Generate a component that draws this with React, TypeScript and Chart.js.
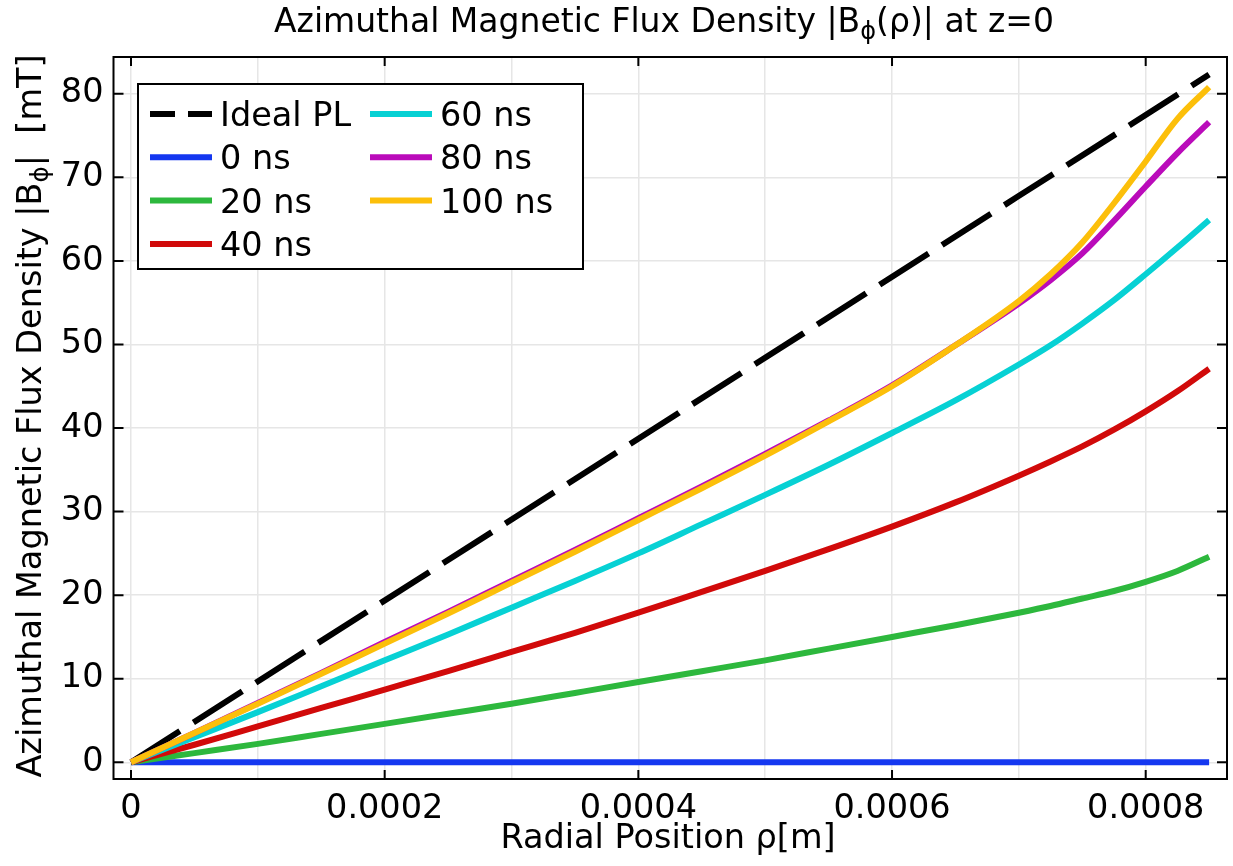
import { useEffect, useRef } from "react"
import { Chart, registerables } from "chart.js"

Chart.register(...registerables)

const FONT = '"DejaVu Sans", sans-serif'

// radial positions (m)
const rho = [
  0, 0.00005, 0.0001, 0.00015, 0.0002, 0.00025, 0.0003, 0.00035, 0.0004, 0.00045, 0.0005, 0.00055, 0.0006,
  0.00065, 0.0007, 0.000725, 0.00075, 0.000775, 0.0008, 0.000825, 0.00085,
]
const idealRho = [0, 0.00085]
const idealB = [0, 82.3]

// |B_phi| in mT per time step
const b0ns = [0, 0, 0, 0, 0, 0, 0, 0, 0, 0, 0, 0, 0, 0, 0, 0, 0, 0, 0, 0, 0]
const b20ns = [0, 1.1, 2.2, 3.4, 4.6, 5.8, 7.0, 8.3, 9.6, 10.9, 12.2, 13.6, 15.0, 16.4, 17.9, 18.7, 19.6, 20.5, 21.6, 22.9, 24.6]
const b40ns = [0, 2.1, 4.3, 6.5, 8.7, 10.9, 13.2, 15.5, 17.9, 20.4, 22.9, 25.5, 28.2, 31.1, 34.3, 36.0, 37.8, 39.8, 42.0, 44.4, 47.1]
const b60ns = [0, 3.0, 6.0, 9.1, 12.2, 15.3, 18.5, 21.7, 25.0, 28.5, 32.0, 35.6, 39.4, 43.3, 47.6, 49.9, 52.5, 55.3, 58.4, 61.6, 64.9]
const b80ns = [0, 3.5, 7.1, 10.7, 14.4, 18.0, 21.7, 25.4, 29.2, 33.0, 36.9, 40.9, 45.1, 49.9, 54.9, 57.7, 60.9, 64.8, 68.9, 72.9, 76.6]
const b100ns = [0, 3.5, 7.0, 10.6, 14.2, 17.8, 21.5, 25.2, 29.0, 32.8, 36.7, 40.8, 45.0, 49.9, 55.2, 58.4, 62.2, 66.9, 71.9, 77.0, 80.8]

const seriesLabels = ["Ideal PL", "0 ns", "20 ns", "40 ns", "60 ns", "80 ns", "100 ns"]
const seriesColors = ["#000000", "#1437F0", "#2DB83D", "#D10A0A", "#07D1D4", "#BA0BBA", "#FCBF0A"]

const xGridValues = [0, 0.0001, 0.0002, 0.0003, 0.0004, 0.0005, 0.0006, 0.0007, 0.0008]
const xTickValues = [0, 0.0002, 0.0004, 0.0006, 0.0008]
const xTickLabels = ["0", "0.0002", "0.0004", "0.0006", "0.0008"]
const yTickValues = [0, 10, 20, 30, 40, 50, 60, 70, 80]

type Part = { t: string; s: number; dy?: number }

function drawParts(ctx: CanvasRenderingContext2D, parts: Part[], cx: number, baseY: number) {
  let total = 0
  for (const p of parts) {
    ctx.font = `${p.s}px ${FONT}`
    total += ctx.measureText(p.t).width
  }
  let x = cx - total / 2
  ctx.textAlign = "left"
  ctx.textBaseline = "alphabetic"
  for (const p of parts) {
    ctx.font = `${p.s}px ${FONT}`
    ctx.fillText(p.t, x, baseY + (p.dy || 0))
    x += ctx.measureText(p.t).width
  }
}

const decorations = {
  id: "decorations",
  afterDraw(chart: Chart) {
    const ctx = chart.ctx
    const { left, right, top, bottom } = chart.chartArea
    const xs = chart.scales.x
    const ys = chart.scales.y
    ctx.save()

    // frame + inside ticks
    ctx.strokeStyle = "#000"
    ctx.lineWidth = 2
    ctx.strokeRect(left, top, right - left, bottom - top)
    ctx.beginPath()
    for (const v of xTickValues) {
      const px = xs.getPixelForValue(v)
      ctx.moveTo(px, bottom)
      ctx.lineTo(px, bottom - 9)
      ctx.moveTo(px, top)
      ctx.lineTo(px, top + 9)
    }
    for (const v of yTickValues) {
      const py = ys.getPixelForValue(v)
      ctx.moveTo(left, py)
      ctx.lineTo(left + 10, py)
      ctx.moveTo(right, py)
      ctx.lineTo(right - 10, py)
    }
    ctx.stroke()

    // titles
    ctx.fillStyle = "#000"
    drawParts(
      ctx,
      [
        { t: "Azimuthal Magnetic Flux Density |B", s: 33 },
        { t: "ϕ", s: 24, dy: 7 },
        { t: "(ρ)| at z=0", s: 33 },
      ],
      664,
      32
    )
    drawParts(ctx, [{ t: "Radial Position ρ[m]", s: 33.5 }], 668, 848)
    ctx.save()
    ctx.translate(41, 416)
    ctx.rotate(-Math.PI / 2)
    drawParts(
      ctx,
      [
        { t: "Azimuthal Magnetic Flux Density |B", s: 33.5 },
        { t: "ϕ", s: 24.5, dy: 7 },
        { t: "|  [mT]", s: 33.5 },
      ],
      0,
      0
    )
    ctx.restore()

    // legend (two columns, column-major)
    const bx = 138
    const by = 84
    const bw = 445
    const bh = 185
    ctx.fillStyle = "#fff"
    ctx.fillRect(bx, by, bw, bh)
    ctx.strokeStyle = "#000"
    ctx.lineWidth = 2
    ctx.strokeRect(bx, by, bw, bh)
    const datasets = chart.data.datasets
    datasets.forEach((ds: any, i: number) => {
      const col = i < 4 ? 0 : 1
      const row = i < 4 ? i : i - 4
      const lx = col === 0 ? 150 : 370
      const ly = 114 + row * 43.3
      ctx.strokeStyle = ds.borderColor
      ctx.lineWidth = 6
      ctx.setLineDash(i === 0 ? [25, 13] : [])
      ctx.beginPath()
      ctx.moveTo(lx, ly)
      ctx.lineTo(lx + 62, ly)
      ctx.stroke()
      ctx.setLineDash([])
      ctx.fillStyle = "#000"
      ctx.font = `33.5px ${FONT}`
      ctx.textAlign = "left"
      ctx.textBaseline = "alphabetic"
      ctx.fillText(ds.label, lx + 70, ly + 12)
    })
    ctx.restore()
  },
}

export default function App() {
  const chartRef = useRef<HTMLCanvasElement>(null)
  const chartInstance = useRef<Chart | null>(null)

  useEffect(() => {
    if (!chartRef.current) return
    const ctx = chartRef.current.getContext("2d")
    if (!ctx) return
    if (chartInstance.current) chartInstance.current.destroy()

    const series = [idealB, b0ns, b20ns, b40ns, b60ns, b80ns, b100ns]
    const datasets = series.map((vals, i) => {
      const xs = i === 0 ? idealRho : rho
      return {
        label: seriesLabels[i],
        data: vals.map((y, j) => ({ x: xs[j], y })),
        borderColor: seriesColors[i],
        backgroundColor: seriesColors[i],
        borderWidth: 6,
        borderDash: i === 0 ? [58, 16] : [],
        borderCapStyle: "butt" as const,
        pointRadius: 0,
        fill: false,
        cubicInterpolationMode: "monotone" as const,
        order: 6 - i,
      }
    })

    chartInstance.current = new Chart(ctx, {
      type: "line",
      data: { datasets },
      options: {
        animation: false,
        responsive: true,
        maintainAspectRatio: false,
        layout: { padding: { top: 57, right: 6, left: 0, bottom: 0 } },
        plugins: {
          legend: { display: false },
          title: { display: false },
          tooltip: { enabled: false },
        },
        scales: {
          x: {
            type: "linear",
            min: -0.0000138,
            max: 0.0008641,
            afterBuildTicks: (scale: any) => {
              scale.ticks = xGridValues.map((v) => ({ value: v }))
            },
            afterFit: (scale: any) => {
              scale.height = 87
            },
            grid: { color: "#e6e6e6", lineWidth: 1.5, drawTicks: false },
            border: { display: false },
            ticks: {
              autoSkip: false,
              maxRotation: 0,
              padding: 10,
              color: "#000",
              font: { family: FONT, size: 33.5 },
              callback: (value: any) => {
                const k = xTickValues.findIndex((v) => Math.abs(v - Number(value)) < 1e-9)
                return k >= 0 ? xTickLabels[k] : ""
              },
            },
          },
          y: {
            type: "linear",
            min: -2,
            max: 84.4,
            afterBuildTicks: (scale: any) => {
              scale.ticks = yTickValues.map((v) => ({ value: v }))
            },
            afterFit: (scale: any) => {
              scale.width = 113.5
            },
            grid: { color: "#e6e6e6", lineWidth: 1.5, drawTicks: false },
            border: { display: false },
            ticks: {
              padding: 10,
              color: "#000",
              font: { family: FONT, size: 33.5 },
              callback: (value: any) => String(value),
            },
          },
        },
      },
      plugins: [decorations],
    })

    return () => {
      if (chartInstance.current) {
        chartInstance.current.destroy()
        chartInstance.current = null
      }
    }
  }, [])

  return (
    <div style={{ position: "fixed", left: 0, top: 0, width: 1233, height: 866, background: "#fff" }}>
      <canvas ref={chartRef} />
    </div>
  )
}
